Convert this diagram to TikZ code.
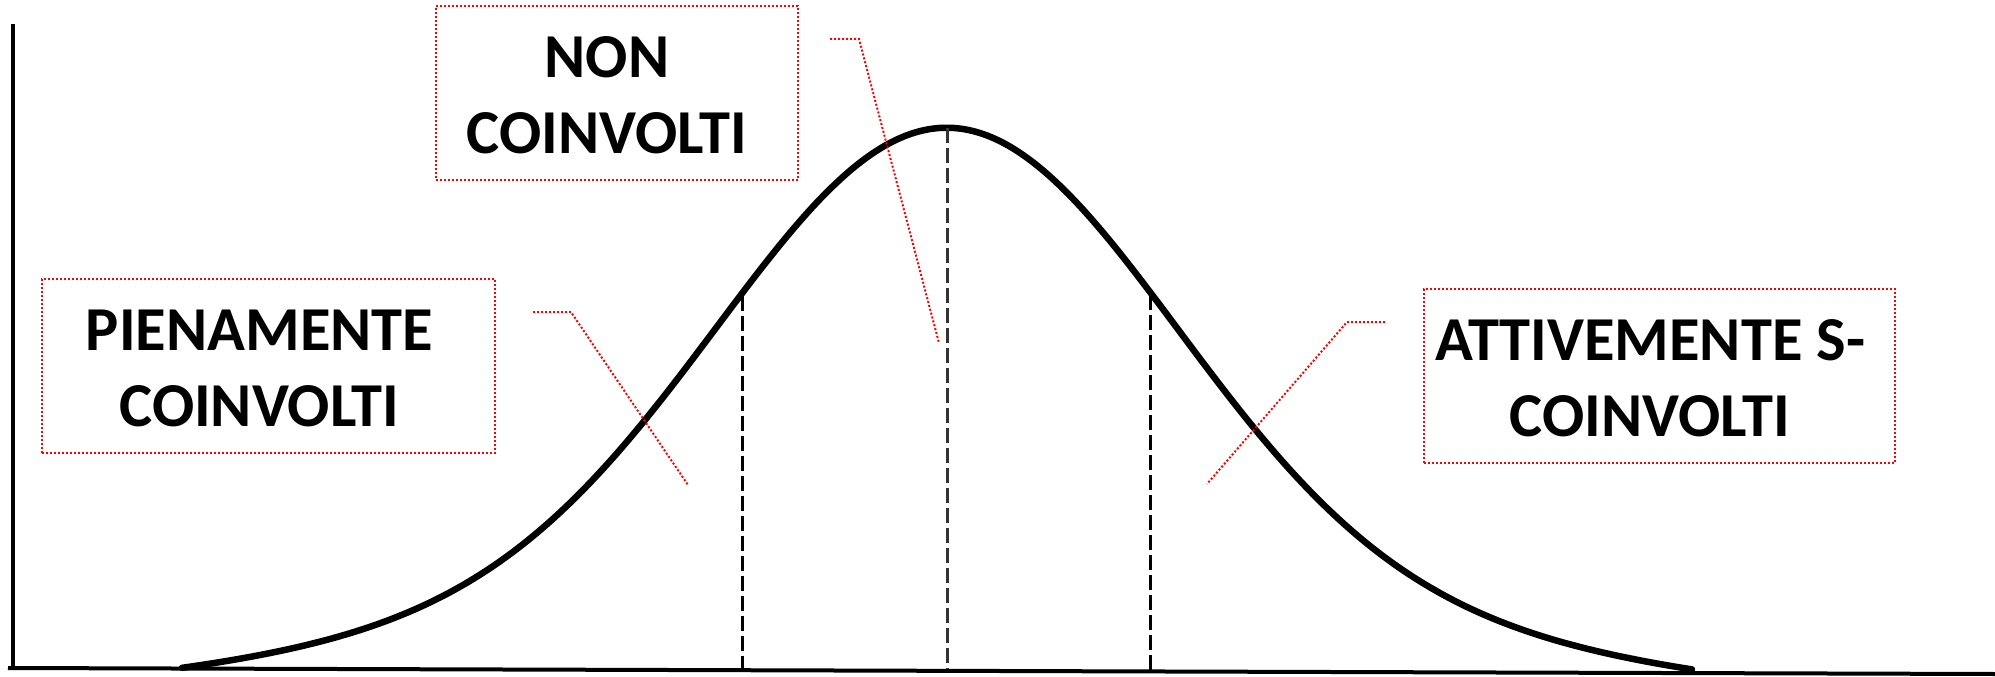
\documentclass[tikz,border=0pt]{standalone}
\usepackage{fontspec}
\newfontfamily\carlito{Carlito}
\begin{document}
\begin{tikzpicture}[x=1pt,y=-1pt,
  curve/.style={line width=6.5pt,black,line join=round,line cap=round},
  axisline/.style={line width=4pt,black},
  guide/.style={line width=3pt,dash pattern=on 15pt off 5pt},
  callout/.style={red,line width=2pt,dash pattern=on 2pt off 2pt},
  boxframe/.style={draw=red,line width=2pt,dash pattern=on 2pt off 2pt,inner sep=0pt,minimum height=174pt},
  lbl/.style={font=\carlito\bfseries\fontsize{62.5}{76}\selectfont,align=center,inner sep=0pt,anchor=base}]
\useasboundingbox (0,0) rectangle (1995,677);
% axes
\coordinate (ytop) at (13,24);
\coordinate (ybot) at (13,670);
\coordinate (xl) at (8,668);
\coordinate (xr) at (1995,674);
\draw[axisline] (ytop) -- (ybot);
\draw[axisline] (xl) -- (xr);
% bell curve
\draw[curve] plot[domain=-765:745,samples=301,smooth]
  ({947+\x},
   {668+0.00302*(939+\x)
    -543*(0.8*exp(-0.5*(\x/222)*(\x/222))+0.2*exp(-0.5*(\x/370)*(\x/370)))
        *(1-((\x/770)*(\x/770))*((\x/770)*(\x/770))*((\x/770)*(\x/770))*((\x/770)*(\x/770)))});
% guides
\coordinate (g1t) at (742,296); \coordinate (g1b) at (742,668);
\coordinate (g2t) at (947,128); \coordinate (g2b) at (947,669);
\coordinate (g3t) at (1150,295); \coordinate (g3b) at (1150,672);
\draw[guide] (g1t) -- (g1b);
\draw[guide,black!80] (g2t) -- (g2b);
\draw[guide] (g3t) -- (g3b);
% boxes
\node[boxframe,minimum width=453pt] (pienbox) at (268.5,366) {};
\node[boxframe,minimum width=362pt] (nonbox) at (617,93) {};
\node[boxframe,minimum width=471pt] (attbox) at (1659.5,376) {};
% labels (base = baseline of the last line)
\node[lbl] (pien) at (259.5,426) {PIENAMENTE\\COINVOLTI};
\node[lbl] (non) at (607,153) {NON\\COINVOLTI};
\node[lbl] (att) at (1650,436) {ATTIVEMENTE S-\\COINVOLTI};
% callouts
\coordinate (c1a) at (533,312); \coordinate (c1b) at (571,312); \coordinate (c1c) at (688,485);
\coordinate (c2a) at (830,39); \coordinate (c2b) at (859,39); \coordinate (c2c) at (939,343);
\coordinate (c3a) at (1385,322); \coordinate (c3b) at (1347,322); \coordinate (c3c) at (1207,484);
\draw[callout] (c1a) -- (c1b) -- (c1c);
\draw[callout] (c2a) -- (c2b) -- (c2c);
\draw[callout] (c3a) -- (c3b) -- (c3c);
\end{tikzpicture}
\end{document}
